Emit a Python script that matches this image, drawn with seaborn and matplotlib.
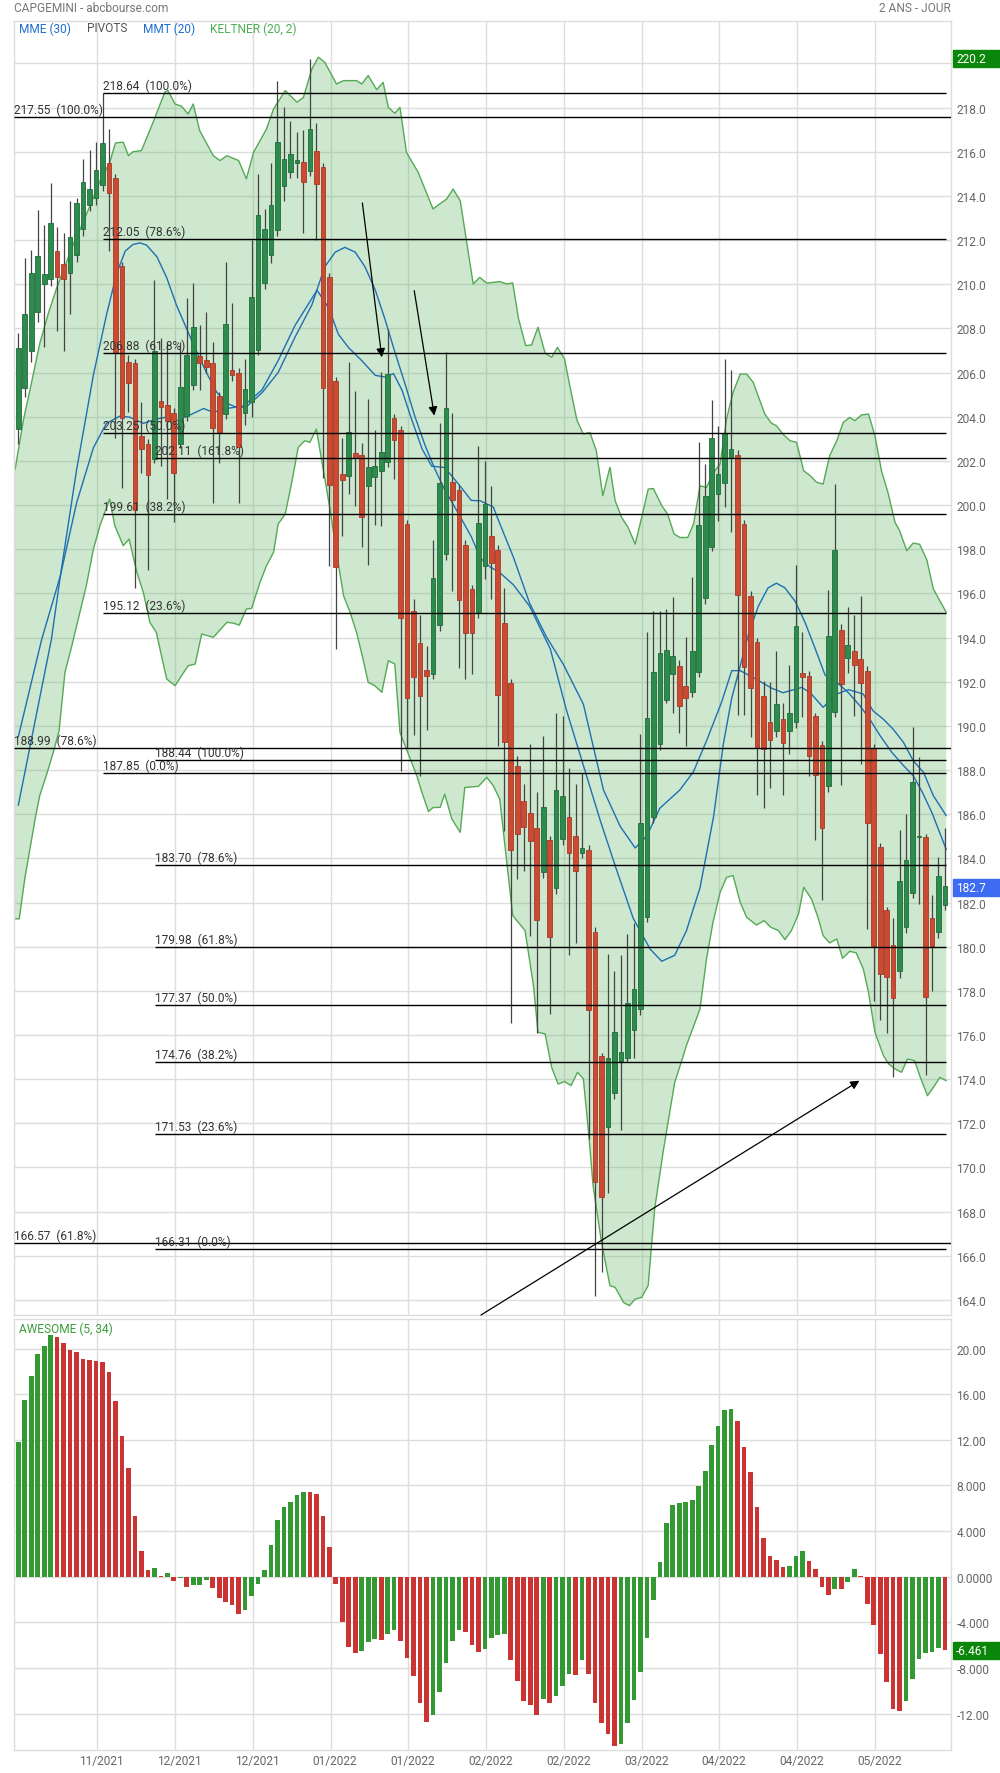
import numpy as np
import pandas as pd
import matplotlib
matplotlib.use("Agg")
import matplotlib.pyplot as plt
import seaborn as sns
from matplotlib.patches import Rectangle
from matplotlib.transforms import ScaledTranslation, blended_transform_factory

# Cours journaliers (ouverture, haut, bas, clôture)
ouv = [203.44, 205.29, 206.96, 208.76, 210.01, 210.23, 211.49, 210.90, 210.53, 211.32,
       212.49, 213.58, 213.92, 214.50, 215.47, 214.80, 210.82, 206.46, 206.43, 203.11,
       202.77, 202.07, 204.73, 204.53, 204.15, 202.77, 204.03, 205.42, 206.73, 206.59,
       206.43, 204.92, 204.11, 206.12, 205.99, 204.15, 204.68, 207.02, 210.07, 211.32,
       212.46, 214.43, 215.09, 215.49, 215.52, 215.12, 216.03, 215.31, 210.34, 205.61,
       201.41, 201.30, 202.34, 202.26, 200.85, 201.25, 201.54, 201.94, 203.93, 203.40,
       199.15, 195.22, 193.73, 192.53, 192.37, 194.55, 197.77, 201.06, 200.69, 198.17,
       196.18, 195.16, 197.23, 198.61, 197.97, 194.67, 191.95, 188.16, 186.60, 186.05,
       185.38, 183.36, 184.83, 182.66, 184.88, 185.85, 185.02, 184.25, 184.38, 180.67,
       175.04, 171.85, 173.38, 174.82, 174.96, 176.23, 177.17, 181.36, 185.85, 189.18,
       191.18, 192.37, 192.73, 191.81, 191.54, 192.45, 195.78, 198.11, 200.50, 200.99,
       202.12, 202.28, 199.12, 195.90, 193.80, 191.36, 190.18, 189.76, 190.32, 189.76,
       190.18, 192.38, 192.26, 190.43, 189.14, 187.27, 190.63, 194.34, 193.09, 193.38,
       193.05, 192.47, 189.01, 184.50, 181.65, 180.09, 178.88, 180.90, 182.42, 184.95,
       184.96, 181.32, 180.65, 181.90]
haut = [207.77, 211.19, 211.57, 213.36, 212.66, 214.59, 212.58, 212.32, 213.75, 213.90,
        215.68, 216.08, 216.46, 218.64, 217.05, 215.00, 211.00, 206.80, 206.60, 204.65,
        203.00, 210.18, 207.55, 207.33, 204.40, 207.38, 209.39, 210.06, 208.17, 208.76,
        207.38, 205.10, 211.02, 209.14, 206.20, 206.63, 211.99, 214.99, 213.40, 215.49,
        219.21, 218.02, 217.38, 216.90, 216.98, 220.20, 217.30, 215.50, 210.50, 205.80,
        203.03, 206.46, 205.16, 202.82, 204.81, 203.40, 206.03, 207.97, 204.10, 203.60,
        199.30, 195.75, 195.00, 193.62, 198.41, 203.72, 206.94, 204.15, 200.90, 198.40,
        196.40, 202.69, 202.00, 200.85, 198.20, 196.25, 192.10, 188.63, 187.38, 189.18,
        187.02, 189.54, 185.00, 190.60, 190.43, 188.07, 187.38, 187.85, 184.60, 180.90,
        175.18, 179.67, 178.92, 179.62, 180.59, 181.06, 189.65, 194.26, 195.20, 195.20,
        195.28, 195.84, 193.00, 194.03, 196.72, 202.85, 201.85, 204.76, 203.56, 206.61,
        206.13, 202.50, 199.30, 196.10, 194.00, 192.05, 191.99, 193.38, 191.05, 192.76,
        197.29, 194.23, 192.50, 190.60, 189.30, 196.15, 200.93, 194.63, 195.38, 195.00,
        195.90, 192.70, 189.20, 184.70, 181.80, 181.28, 185.27, 186.00, 189.97, 188.60,
        185.10, 182.36, 184.08, 185.37]
bas = [202.77, 204.90, 206.50, 208.30, 207.16, 209.90, 207.88, 206.96, 208.67, 211.00,
       212.20, 213.30, 213.60, 214.20, 211.49, 203.03, 200.76, 204.20, 196.24, 201.47,
       197.08, 201.90, 201.77, 200.26, 199.25, 202.60, 203.80, 205.20, 205.20, 206.00,
       200.09, 201.89, 203.90, 205.60, 200.09, 203.61, 204.00, 206.80, 209.80, 210.98,
       212.20, 213.77, 214.80, 214.83, 212.33, 214.90, 211.99, 201.22, 197.24, 193.46,
       198.62, 200.48, 199.95, 198.09, 197.29, 199.10, 199.04, 201.70, 201.17, 187.94,
       189.00, 189.58, 187.72, 189.80, 192.10, 194.30, 197.50, 196.12, 192.64, 192.13,
       192.37, 194.90, 196.65, 195.75, 189.10, 185.22, 176.56, 183.05, 183.41, 180.50,
       176.07, 183.10, 176.93, 182.40, 184.60, 179.62, 180.17, 184.00, 171.30, 164.20,
       165.25, 168.86, 173.10, 171.71, 174.76, 174.96, 176.90, 181.10, 185.60, 188.90,
       191.04, 190.56, 189.68, 189.10, 191.30, 192.20, 195.50, 197.90, 199.27, 199.89,
       198.79, 190.47, 190.47, 189.49, 186.89, 186.27, 187.20, 189.50, 186.85, 188.72,
       189.90, 190.40, 187.72, 184.85, 182.11, 187.00, 190.40, 187.31, 192.40, 190.43,
       188.28, 180.82, 177.53, 176.66, 176.08, 174.10, 178.60, 180.60, 182.20, 181.94,
       174.20, 177.99, 180.40, 181.65]
clot = [207.13, 208.64, 210.53, 211.27, 210.45, 212.78, 210.31, 210.23, 212.12, 213.70,
        214.62, 214.30, 215.17, 216.38, 214.13, 206.88, 203.95, 205.54, 199.76, 202.52,
        201.35, 206.96, 204.45, 203.81, 201.47, 205.34, 206.80, 208.04, 206.43, 206.26,
        203.49, 203.28, 208.22, 205.87, 202.61, 205.24, 209.41, 213.13, 212.52, 213.58,
        216.45, 215.68, 215.89, 215.63, 214.64, 217.03, 214.56, 205.29, 200.90, 197.18,
        201.14, 203.32, 202.15, 199.44, 201.73, 201.75, 202.40, 205.95, 202.95, 194.90,
        191.26, 192.19, 191.34, 192.24, 196.71, 200.98, 204.41, 200.21, 195.72, 194.21,
        194.21, 199.20, 200.04, 197.36, 191.40, 189.27, 184.38, 185.10, 185.44, 184.80,
        181.22, 186.32, 180.45, 187.10, 186.82, 184.25, 183.44, 184.47, 177.12, 169.36,
        168.66, 174.96, 176.15, 175.23, 177.45, 178.09, 185.58, 190.35, 192.43, 193.29,
        193.42, 193.15, 190.90, 191.26, 193.39, 199.11, 200.41, 203.05, 201.40, 203.28,
        202.53, 195.94, 192.67, 191.72, 189.01, 188.93, 189.35, 191.01, 189.22, 190.59,
        194.54, 192.22, 188.62, 187.76, 185.37, 194.07, 197.96, 191.88, 193.65, 192.76,
        191.92, 185.60, 180.03, 178.78, 178.61, 177.68, 182.98, 183.92, 187.45, 185.00,
        177.70, 180.03, 183.19, 182.73]

# Awesome oscillator (5, 34)
ao = [11.84, 15.48, 17.59, 19.53, 20.21, 21.20, 21.03, 20.50, 19.88, 19.71,
      19.09, 19.00, 18.91, 18.85, 17.94, 15.39, 12.31, 9.57, 5.35, 2.26,
      0.59, 0.76, 0.09, 0.32, -0.35, -0.15, -0.88, -0.72, -0.70, -0.26,
      -0.97, -1.85, -2.20, -2.47, -3.26, -2.91, -1.67, -0.62, 0.59, 2.79,
      4.99, 6.14, 6.58, 7.20, 7.46, 7.40, 7.28, 5.35, 2.61, -0.65,
      -3.96, -6.17, -6.70, -6.52, -5.73, -5.46, -5.55, -5.02, -4.67, -5.64,
      -7.14, -8.72, -11.10, -12.78, -12.16, -10.13, -7.58, -5.64, -4.67, -4.85,
      -5.99, -6.61, -6.34, -5.37, -5.11, -5.05, -7.31, -9.16, -10.93, -11.28,
      -12.10, -10.75, -11.10, -10.48, -9.60, -8.55, -8.63, -7.31, -8.55, -11.10,
      -12.86, -13.83, -14.89, -14.71, -12.86, -10.84, -8.37, -5.37, -2.03, 1.29,
      4.73, 6.31, 6.49, 6.58, 6.75, 7.99, 9.31, 11.51, 13.19, 14.60,
      14.68, 13.63, 11.34, 9.22, 6.14, 3.41, 1.82, 1.47, 0.85, 0.94,
      1.82, 2.26, 1.38, 0.68, -0.88, -1.59, -1.06, -1.10, -0.44, 0.68,
      0.09, -2.38, -4.23, -6.78, -9.25, -11.63, -11.81, -10.93, -8.99, -7.22,
      -6.70, -6.61, -6.26, -6.46]

# Moyennes mobiles (x = numéro de séance)
mm1_x = [0, 5.1, 6.5, 9.0, 11.6, 13.6, 15.2, 16.5, 17.7, 18.8,
         19.8, 21.4, 22.9, 24.4, 26.0, 27.5, 29.1, 30.6, 32.1, 33.7,
         35.2, 37.6, 40.1, 42.7, 45.3, 47.3, 48.9, 50.4, 52.0, 53.5,
         55.1, 56.6, 58.1, 59.7, 61.2, 62.8, 64.3, 65.8, 67.9, 69.9,
         71.3, 72.8, 74.3, 76.4, 78.9, 82.1, 84.6, 87.2, 89.8, 92.3,
         94.9, 97.5, 99.3, 101.3, 103.1, 105.2, 107.3, 108.8, 110.1, 111.4,
         112.7, 114.2, 115.7, 117.0, 118.3, 119.9, 121.4, 122.9, 124.5, 126.3,
         128.1, 129.9, 131.4, 133.0, 134.8, 136.6, 138.1, 139.5, 141.0, 143.2]
mm1_y = [186.4, 193.9, 196.8, 201.6, 205.9, 208.6, 210.5, 211.5, 211.8, 211.87,
         211.77, 211.24, 210.3, 209.06, 207.97, 206.96, 205.96, 205.12, 204.62, 204.42,
         204.45, 205.08, 206.0, 207.6, 209.06, 210.79, 211.45, 211.67, 211.45, 210.79,
         209.73, 208.4, 206.94, 205.47, 204.01, 202.68, 201.62, 200.69, 199.63, 198.57,
         197.6, 197.2, 196.94, 196.39, 195.42, 193.48, 190.7, 188.21, 185.72, 183.5,
         181.28, 179.89, 179.34, 179.61, 180.72, 182.67, 185.9, 189.18, 191.26, 192.71,
         194.17, 195.42, 196.25, 196.46, 196.25, 195.63, 194.69, 193.55, 192.3, 191.97,
         191.5, 190.9, 190.3, 189.55, 188.8, 188.2, 187.74, 187.0, 186.06, 184.4]
mm2_x = [0, 3.6, 6.5, 9.0, 11.6, 13.6, 15.7, 17.2, 19.3, 21.4,
         22.9, 24.4, 26.5, 28.6, 30.1, 32.1, 34.7, 37.6, 40.1, 42.7,
         46.1, 47.9, 49.4, 51.0, 53.0, 55.1, 56.6, 57.9, 59.2, 60.7,
         62.3, 63.8, 65.8, 67.9, 69.9, 71.3, 73.3, 74.3, 76.4, 78.9,
         81.5, 84.1, 87.2, 90.3, 92.9, 95.2, 97.0, 99.0, 102.1, 104.2,
         106.2, 108.5, 110.1, 111.4, 113.4, 116.3, 118.0, 120.9, 122.2, 124.2,
         126.3, 128.1, 130.4, 131.9, 133.5, 135.0, 136.6, 138.1, 139.7, 141.2,
         143.2]
mm2_y = [189.5, 193.9, 196.8, 200.1, 202.6, 203.7, 204.03, 203.98, 203.7, 203.9,
         203.98, 203.81, 204.08, 204.37, 204.2, 204.37, 204.48, 205.21, 206.54, 208.13,
         209.73, 208.93, 207.73, 207.12, 206.54, 205.87, 205.8, 205.95, 205.21, 203.88,
         202.55, 201.76, 201.7, 200.96, 200.21, 200.19, 199.91, 199.16, 197.64, 195.56,
         194.03, 192.79, 190.98, 187.1, 185.44, 184.47, 185.02, 186.27, 187.1, 187.93,
         189.32, 191.05, 192.5, 192.5, 192.19, 191.7, 191.5, 191.74, 191.5, 190.84,
         191.44, 191.64, 191.44, 190.68, 190.3, 189.85, 189.25, 188.42, 187.89, 186.84,
         185.93]

# Bandes de Keltner (20, 2) : sommets des deux bords
kh_x = [-0.7, -0.5, 0.8, 2.1, 3.3, 4.6, 5.9, 7.2, 8.5, 9.8,
        11.1, 12.6, 14.1, 15.0, 16.2, 17.0, 17.7, 19.0, 20.8, 22.6,
        23.1, 24.2, 25.2, 26.2, 27.0, 28.0, 30.1, 31.1, 32.2, 34.0,
        35.2, 36.3, 38.3, 39.4, 41.2, 43.0, 44.0, 45.3, 46.3, 47.3,
        49.1, 50.2, 52.2, 53.0, 54.0, 55.3, 56.3, 57.1, 58.1, 58.9,
        59.9, 61.7, 64.0, 66.1, 67.1, 68.2, 70.2, 71.2, 72.3, 74.3,
        75.4, 76.3, 77.2, 78.3, 79.2, 80.2, 81.3, 82.3, 83.2, 84.3,
        85.1, 86.2, 87.2, 88.2, 89.2, 90.2, 91.3, 92.1, 93.1, 94.1,
        95.2, 96.2, 97.2, 98.0, 99.3, 100.2, 101.2, 102.1, 103.3, 104.2,
        105.2, 106.2, 107.3, 108.3, 109.3, 110.3, 111.4, 112.4, 113.4, 115.2,
        116.2, 117.0, 118.0, 119.1, 120.1, 121.2, 122.2, 123.2, 124.2, 125.2,
        126.3, 127.3, 128.3, 129.1, 130.1, 131.2, 132.2, 133.2, 134.2, 135.3,
        136.0, 137.1, 138.1, 139.1, 140.2, 141.2, 142.2, 143.2]
kh_y = [201.6, 201.6, 203.86, 205.62, 207.3, 208.64, 209.81, 210.82, 211.82, 212.66,
        213.58, 214.67, 215.51, 216.4, 216.43, 215.82, 216.0, 216.05, 217.33, 218.69,
        218.77, 218.16, 218.06, 217.71, 218.16, 216.95, 215.82, 215.6, 215.82, 215.6,
        214.77, 215.97, 217.03, 217.94, 218.77, 218.24, 218.46, 219.75, 220.28, 220.05,
        219.07, 219.22, 219.22, 219.07, 219.45, 218.81, 219.14, 218.01, 217.74, 218.01,
        215.97, 215.07, 213.41, 213.86, 214.31, 213.78, 210.01, 210.31, 210.05, 210.12,
        210.01, 210.06, 208.43, 207.22, 207.25, 208.05, 206.88, 206.69, 207.14, 206.61,
        205.41, 203.85, 203.21, 203.29, 202.46, 200.42, 201.71, 200.2, 199.44, 198.99,
        198.23, 199.44, 200.72, 200.75, 199.97, 199.59, 198.69, 198.53, 198.53, 199.14,
        200.87, 200.8, 201.48, 201.86, 203.9, 205.1, 205.93, 205.93, 205.56, 204.12,
        203.71, 203.59, 203.21, 202.91, 202.84, 201.55, 201.33, 201.03, 200.95, 202.23,
        202.91, 203.74, 203.97, 203.82, 204.08, 204.12, 203.14, 201.55, 200.57, 199.21,
        198.84, 197.93, 198.28, 198.22, 197.52, 196.2, 195.67, 195.14]
kb_x = [-0.7, 0.15, 1.0, 2.6, 3.3, 4.4, 5.4, 6.3, 7.2, 8.2,
        9.5, 10.5, 11.6, 12.6, 14.1, 14.9, 16.2, 17.1, 18.3, 19.3,
        20.3, 21.3, 22.9, 24.2, 25.2, 26.2, 27.3, 28.3, 30.1, 32.2,
        33.2, 34.1, 35.2, 36.0, 37.3, 38.3, 39.4, 40.1, 41.2, 42.2,
        43.2, 44.2, 45.0, 46.0, 47.1, 48.1, 49.1, 50.2, 51.2, 52.2,
        53.2, 54.0, 55.0, 56.1, 57.1, 58.1, 58.9, 60.4, 61.5, 62.2,
        63.3, 64.0, 65.1, 65.8, 66.9, 68.2, 68.9, 71.0, 72.3, 73.3,
        74.3, 76.3, 78.2, 79.5, 80.2, 81.3, 82.3, 83.3, 84.3, 85.3,
        86.3, 87.2, 88.0, 88.7, 90.0, 91.3, 92.1, 93.4, 94.3, 95.2,
        96.2, 97.2, 98.2, 99.5, 101.3, 102.3, 103.1, 105.2, 106.2, 107.2,
        108.3, 109.3, 110.3, 111.4, 112.4, 113.9, 115.1, 116.1, 117.3, 118.3,
        119.3, 120.4, 121.2, 122.4, 123.4, 124.2, 125.2, 126.3, 127.2, 128.3,
        129.3, 130.4, 131.2, 132.2, 133.5, 134.3, 135.3, 136.3, 137.2, 138.3,
        139.2, 140.3, 141.4, 142.2, 143.2]
kb_y = [181.26, 181.26, 183.07, 185.78, 186.83, 187.82, 188.8, 189.78, 192.42, 193.55,
        195.14, 196.35, 198.01, 199.06, 200.27, 199.06, 198.16, 198.46, 196.95, 196.04,
        194.69, 194.23, 192.12, 191.82, 192.27, 192.72, 192.8, 194.16, 194.01, 194.69,
        194.65, 194.56, 195.29, 195.32, 196.5, 197.25, 197.86, 199.14, 199.59, 201.03,
        202.61, 202.91, 202.84, 203.44, 201.55, 199.82, 197.86, 195.89, 195.14, 194.23,
        193.02, 191.97, 191.82, 191.52, 192.95, 192.8, 189.7, 188.57, 187.74, 187.06,
        186.12, 186.3, 186.31, 186.91, 185.78, 185.18, 187.21, 187.26, 187.67, 187.29,
        186.68, 181.41, 180.73, 178.24, 176.12, 176.05, 174.54, 173.78, 173.89, 173.71,
        174.31, 174.01, 171.59, 169.18, 166.61, 164.65, 164.57, 163.89, 163.74, 164.04,
        164.12, 164.65, 168.12, 170.69, 173.86, 174.76, 175.52, 177.18, 179.44, 181.1,
        182.46, 183.14, 183.22, 182.01, 181.33, 180.98, 181.18, 180.88, 180.73, 180.32,
        180.73, 181.48, 182.69, 182.16, 181.33, 180.5, 180.17, 180.35, 179.47, 179.79,
        179.72, 178.99, 177.93, 176.12, 175.07, 174.69, 174.46, 174.31, 174.91, 174.84,
        174.08, 173.25, 173.71, 174.08, 173.93]

# Retracements de Fibonacci : niveau, pourcentage, séance de départ
fibo_niv = [217.55, 188.99, 166.57,
            218.64, 212.05, 206.88, 203.25, 199.61, 195.12, 187.85,
            202.11, 188.44, 183.70, 179.98, 177.37, 174.76, 171.53, 166.31]
fibo_pct = [100.0, 78.6, 61.8,
            100.0, 78.6, 61.8, 50.0, 38.2, 23.6, 0.0,
            161.8, 100.0, 78.6, 61.8, 50.0, 38.2, 23.6, 0.0]
fibo_debut = [-0.66] * 3 + [13.1] * 7 + [21.1] * 8
fibo_fin = [143.93] * 3 + [143.1] * 15

# Flèches tracées à la main
fl_x0 = [53.1, 61.1, 71.4]
fl_y0 = [213.68, 209.71, 163.32]
fl_x1 = [56.1, 64.2, 129.8]
fl_y1 = [206.69, 204.05, 173.93]

dates = ["11/2021", "12/2021", "12/2021", "01/2022", "01/2022", "02/2022",
         "02/2022", "03/2022", "04/2022", "04/2022", "05/2022"]
ao_ticks = [-12, -8, -4, 0, 4, 8, 12, 16, 20]
ao_lbl = ["-12.00", "-8.000", "-4.000", "0.0000", "4.000", "8.000", "12.00", "16.00", "20.00"]

# ---------------------------------------------------------------
sns.set_theme(style="white")
plt.rcParams['font.family'] = ['Roboto', 'DejaVu Sans']

W, H = 1000, 1774
fig = plt.figure(figsize=(W / 100, H / 100), dpi=100)
ax = fig.add_axes([14 / W, 1 - 1316 / H, 937 / W, 1294 / H])
ax2 = fig.add_axes([14 / W, 1 - 1751 / H, 937 / W, 431 / H])

df = pd.DataFrame({"o": ouv, "h": haut, "l": bas, "c": clot, "ao": ao})
df["i"] = np.arange(len(df))
df["hausse"] = df["c"] >= df["o"]

xgrid = 12.2 + 12.0 * np.arange(len(dates))
for a in (ax, ax2):
    a.set_xlim(-0.66, 143.93)
    a.set_xticks(xgrid)
    a.grid(True, color="#dddddd", lw=1)
    a.set_axisbelow(True)
    for s in a.spines.values():
        s.set_color("#dddddd")
        s.set_linewidth(1)
    a.yaxis.tick_right()
    a.tick_params(length=0, labelsize=8.6, labelcolor="#666666", pad=4)
    a.set_xlabel("")
    a.set_ylabel("")

# --- graphique des cours ---
ax.set_ylim(163.32, 221.92)
yt = np.arange(164, 221, 2)
ax.set_yticks(yt)
ax.set_yticklabels([f"{v:.1f}" if v < 219 else "" for v in yt])
ax.set_xticklabels([])

# bandes de Keltner
ax.fill(np.r_[kh_x, kb_x[::-1]], np.r_[kh_y, kb_y[::-1]],
        color="#4caf50", alpha=0.28, lw=0, zorder=1)
sns.lineplot(x=kh_x, y=kh_y, ax=ax, color="#55a955", lw=1.0, sort=False, estimator=None, zorder=2)
sns.lineplot(x=kb_x, y=kb_y, ax=ax, color="#55a955", lw=1.0, sort=False, estimator=None, zorder=2)

# moyennes mobiles
sns.lineplot(x=mm1_x, y=mm1_y, ax=ax, color="#1f6fb4", lw=1.0, sort=False, estimator=None, zorder=2.5)
sns.lineplot(x=mm2_x, y=mm2_y, ax=ax, color="#1f6fb4", lw=1.0, sort=False, estimator=None, zorder=2.5)

# chandeliers
corps_col = np.where(df["hausse"], "#2e8b4e", "#cc4a32")
bord_col = np.where(df["hausse"], "#216b3a", "#a53a26")
ax.vlines(df["i"], df["l"], df["h"], color="#444444", lw=0.9, zorder=3)
corps = np.maximum((df["c"] - df["o"]).abs(), 0.08)
ax.bar(df["i"], corps, bottom=np.minimum(df["o"], df["c"]), width=0.72,
       color=corps_col, edgecolor=bord_col, lw=0.6, zorder=4)

# Fibonacci
for niv, pct, x0, x1 in zip(fibo_niv, fibo_pct, fibo_debut, fibo_fin):
    ax.hlines(niv, x0, x1, color="black", lw=1.0, zorder=5)
    ax.text(x0, niv + 0.05, f"{niv:.2f}  ({pct:.1f}%)", fontsize=8.6, color="#333333",
            ha="left", va="bottom", zorder=6)

# flèches
for x0, y0, x1, y1 in zip(fl_x0, fl_y0, fl_x1, fl_y1):
    ax.annotate("", xy=(x1, y1), xytext=(x0, y0),
                arrowprops=dict(arrowstyle="-|>", color="black", lw=0.9,
                                mutation_scale=13, shrinkA=0, shrinkB=0), zorder=6)


def etiquette(a, val, txt, couleur, h):
    tr = blended_transform_factory(a.transAxes, a.transData)
    a.add_patch(Rectangle((1.0021, val - h / 2), 0.0502, h, transform=tr,
                          color=couleur, clip_on=False, zorder=10))
    a.text(1.0055, val, txt, transform=tr, color="white", fontsize=8.6,
           ha="left", va="center", clip_on=False, zorder=11)


etiquette(ax, 220.2, "220.2", "#0a870a", 0.77)
etiquette(ax, 182.67, "182.7", "#3d6cf2", 0.77)

# --- Awesome oscillator ---
ax2.set_ylim(-15.2, 22.6)
ax2.set_yticks(ao_ticks)
ax2.set_yticklabels(ao_lbl)
ao_col = np.where(df["ao"].diff().fillna(1) >= 0, "#339933", "#cc3333")
ax2.bar(df["i"], df["ao"], width=0.72, color=ao_col, lw=0, zorder=3)
ax2.set_xticklabels(dates)
ax2.tick_params(axis="x", pad=3)
decal = ScaledTranslation(4.5 / 100, 0, fig.dpi_scale_trans)
for lab in ax2.get_xticklabels():
    lab.set_transform(lab.get_transform() + decal)
etiquette(ax2, -6.461, "-6.461", "#0a870a", 1.5)

# --- textes d'en-tête ---
fig.text(14 / W, 1 - 9 / H, "CAPGEMINI - abcbourse.com", color="#777777", fontsize=8.6, va="center")
fig.text(951 / W, 1 - 9 / H, "2 ANS - JOUR", color="#777777", fontsize=8.6, va="center", ha="right")
for x, txt, col in [(19, "MME (30)", "#1e6fd0"), (87, "PIVOTS", "#555555"),
                    (143, "MMT (20)", "#1e6fd0"), (210, "KELTNER (20, 2)", "#4caf50")]:
    fig.text(x / W, 1 - 29 / H, txt, color=col, fontsize=8.6, va="center")
fig.text(19 / W, 1 - 1329 / H, "AWESOME (5, 34)", color="#3a9d3a", fontsize=8.6, va="center")

fig.savefig("out.png", dpi=100)
